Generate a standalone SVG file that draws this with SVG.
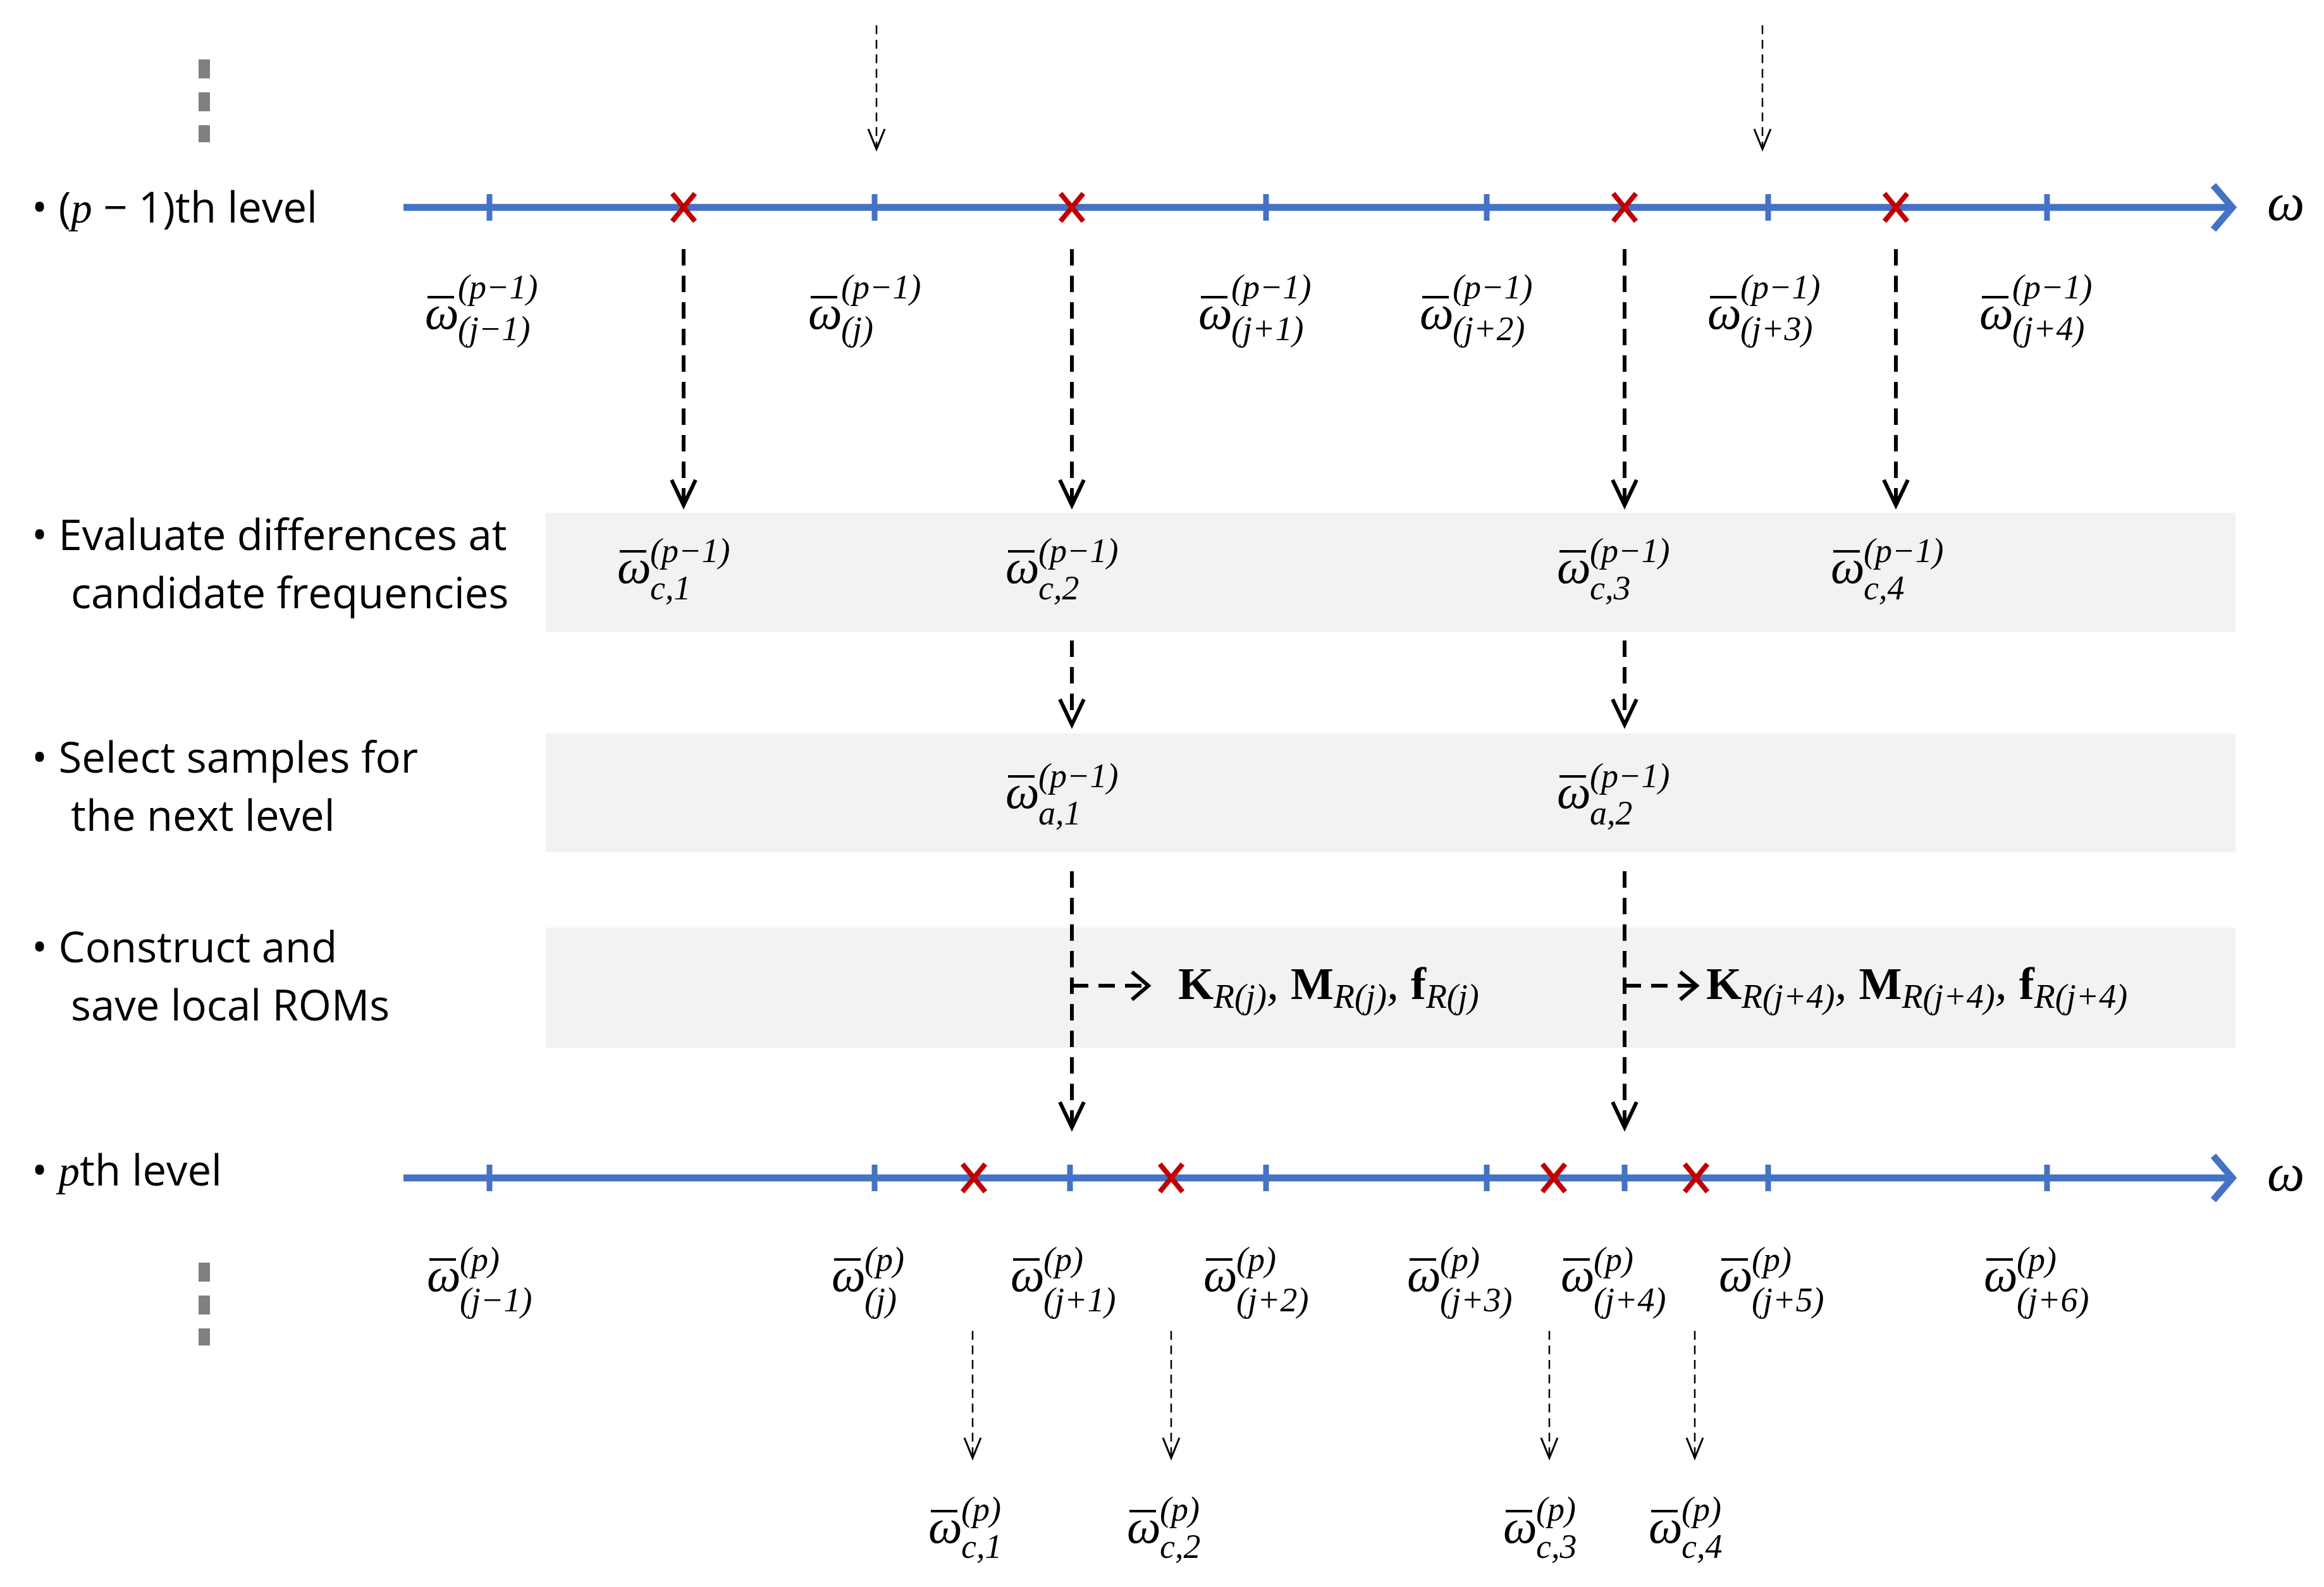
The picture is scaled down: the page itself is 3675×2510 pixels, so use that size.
<svg xmlns="http://www.w3.org/2000/svg" width="3675" height="2510" viewBox="0 0 3675 2510">
<style>
.lbl{font-family:"Open Sans","Noto Sans",sans-serif;font-size:67px;fill:#000}
.m{font-family:"Liberation Serif","DejaVu Serif",serif;font-style:italic;fill:#000}
.w{font-size:76px}
.s{font-size:54px}
.b{font-family:"Liberation Serif","DejaVu Serif",serif;font-weight:bold;font-size:72px}
.axis{stroke:#4472C4;stroke-width:11;fill:none}
.tick{stroke:#4472C4;stroke-width:9}
.x{stroke:#C00000;stroke-width:8}
.thick{stroke:#000;stroke-width:6;stroke-dasharray:26,16;fill:none}
.thin{stroke:#000;stroke-width:2.5;stroke-dasharray:14,9;fill:none}
.box{fill:#F2F2F2}
.dots{stroke:#808080;stroke-width:18;stroke-dasharray:30,22}
.bar{stroke:#000;stroke-width:4}
</style>
<defs>
<marker id="ah" markerWidth="10" markerHeight="10" refX="0" refY="0" orient="auto" markerUnits="userSpaceOnUse" overflow="visible">
<path d="M-38,-19 L2,0 L-38,19" fill="none" stroke="#000" stroke-width="6"/>
</marker>
<marker id="ahr" markerWidth="10" markerHeight="10" refX="0" refY="0" orient="auto" markerUnits="userSpaceOnUse" overflow="visible">
<path d="M-30,-13 L2,0 L-30,13" fill="none" stroke="#000" stroke-width="3"/>
</marker>
<marker id="axh" markerWidth="10" markerHeight="10" orient="auto" markerUnits="userSpaceOnUse" overflow="visible">
<path d="M-30,-35 L0,0 L-30,35" fill="none" stroke="#4472C4" stroke-width="11"/>
</marker>
</defs>

<g id="boxes">
<rect class="box" x="863" y="811" width="2672" height="188"/>
<rect class="box" x="863" y="1160" width="2672" height="188"/>
<rect class="box" x="863" y="1467" width="2672" height="190"/>
</g>

<g id="level-labels">
<line class="dots" x1="323" y1="94" x2="323" y2="225"/>
<line class="dots" x1="323" y1="1997" x2="323" y2="2128"/>
<text class="lbl" x="50" y="352">•  (<tspan class="m">p</tspan> − 1)th level</text>
<text class="lbl" x="50" y="870">•  Evaluate differences at</text>
<text class="lbl" x="112" y="962">candidate frequencies</text>
<text class="lbl" x="50" y="1222">•  Select samples for</text>
<text class="lbl" x="112" y="1314">the next level</text>
<text class="lbl" x="50" y="1522">•  Construct and</text>
<text class="lbl" x="112" y="1614">save local ROMs</text>
<text class="lbl" x="50" y="1875">•  <tspan class="m">p</tspan>th level</text>
</g>

<g id="axis-top">
<line class="axis" x1="638" y1="328" x2="3530" y2="328" marker-end="url(#axh)"/>
<g class="tick"><line x1="774" y1="307" x2="774" y2="349"/><line x1="1383" y1="307" x2="1383" y2="349"/><line x1="2002" y1="307" x2="2002" y2="349"/><line x1="2351" y1="307" x2="2351" y2="349"/><line x1="2796" y1="307" x2="2796" y2="349"/><line x1="3237" y1="307" x2="3237" y2="349"/></g>
<g class="x"><path d="M1063,306 L1099,350 M1099,306 L1063,350"/><path d="M1677,306 L1713,350 M1713,306 L1677,350"/><path d="M2551,306 L2587,350 M2587,306 L2551,350"/><path d="M2980,306 L3016,350 M3016,306 L2980,350"/></g>
<text class="m" x="3585" y="348" font-size="84">ω</text>
</g>

<g id="axis-bottom">
<line class="axis" x1="638" y1="1863" x2="3530" y2="1863" marker-end="url(#axh)"/>
<g class="tick"><line x1="774" y1="1842" x2="774" y2="1884"/><line x1="1383" y1="1842" x2="1383" y2="1884"/><line x1="1692" y1="1842" x2="1692" y2="1884"/><line x1="2002" y1="1842" x2="2002" y2="1884"/><line x1="2351" y1="1842" x2="2351" y2="1884"/><line x1="2569" y1="1842" x2="2569" y2="1884"/><line x1="2796" y1="1842" x2="2796" y2="1884"/><line x1="3237" y1="1842" x2="3237" y2="1884"/></g>
<g class="x"><path d="M1522,1841 L1558,1885 M1558,1841 L1522,1885"/><path d="M1834,1841 L1870,1885 M1870,1841 L1834,1885"/><path d="M2439,1841 L2475,1885 M2475,1841 L2439,1885"/><path d="M2664,1841 L2700,1885 M2700,1841 L2664,1885"/></g>
<text class="m" x="3585" y="1883" font-size="84">ω</text>
</g>

<g id="top-labels" class="m">
<text class="w" x="672" y="520">ω</text><text class="s" x="724" y="472">(p−1)</text><text class="s" x="724" y="538">(j−1)</text>
<text class="w" x="1278" y="520">ω</text><text class="s" x="1330" y="472">(p−1)</text><text class="s" x="1330" y="538">(j)</text>
<text class="w" x="1895" y="520">ω</text><text class="s" x="1947" y="472">(p−1)</text><text class="s" x="1947" y="538">(j+1)</text>
<text class="w" x="2245" y="520">ω</text><text class="s" x="2297" y="472">(p−1)</text><text class="s" x="2297" y="538">(j+2)</text>
<text class="w" x="2700" y="520">ω</text><text class="s" x="2752" y="472">(p−1)</text><text class="s" x="2752" y="538">(j+3)</text>
<text class="w" x="3130" y="520">ω</text><text class="s" x="3182" y="472">(p−1)</text><text class="s" x="3182" y="538">(j+4)</text>
</g>

<g id="candidate-labels" class="m">
<text class="w" x="976" y="922">ω</text><text class="s" x="1028" y="889">(p−1)</text><text class="s" x="1028" y="948">c,1</text>
<text class="w" x="1590" y="922">ω</text><text class="s" x="1642" y="889">(p−1)</text><text class="s" x="1642" y="948">c,2</text>
<text class="w" x="2462" y="922">ω</text><text class="s" x="2514" y="889">(p−1)</text><text class="s" x="2514" y="948">c,3</text>
<text class="w" x="2895" y="922">ω</text><text class="s" x="2947" y="889">(p−1)</text><text class="s" x="2947" y="948">c,4</text>
</g>

<g id="selected-labels" class="m">
<text class="w" x="1590" y="1278">ω</text><text class="s" x="1642" y="1245">(p−1)</text><text class="s" x="1642" y="1304">a,1</text>
<text class="w" x="2462" y="1278">ω</text><text class="s" x="2514" y="1245">(p−1)</text><text class="s" x="2514" y="1304">a,2</text>
</g>

<g id="rom-labels">
<text x="1863" y="1580"><tspan class="b">K</tspan><tspan class="m s" dy="14">R(j)</tspan><tspan class="m w" dy="-14">, </tspan><tspan class="b">M</tspan><tspan class="m s" dy="14">R(j)</tspan><tspan class="m w" dy="-14">, </tspan><tspan class="b">f</tspan><tspan class="m s" dy="14">R(j)</tspan></text>
<text x="2698" y="1580"><tspan class="b">K</tspan><tspan class="m s" dy="14">R(j+4)</tspan><tspan class="m w" dy="-14">, </tspan><tspan class="b">M</tspan><tspan class="m s" dy="14">R(j+4)</tspan><tspan class="m w" dy="-14">, </tspan><tspan class="b">f</tspan><tspan class="m s" dy="14">R(j+4)</tspan></text>
</g>

<g id="bottom-labels" class="m">
<text class="w" x="675" y="2042">ω</text><text class="s" x="727" y="2010">(p)</text><text class="s" x="727" y="2074">(j−1)</text>
<text class="w" x="1315" y="2042">ω</text><text class="s" x="1367" y="2010">(p)</text><text class="s" x="1367" y="2074">(j)</text>
<text class="w" x="1598" y="2042">ω</text><text class="s" x="1650" y="2010">(p)</text><text class="s" x="1650" y="2074">(j+1)</text>
<text class="w" x="1903" y="2042">ω</text><text class="s" x="1955" y="2010">(p)</text><text class="s" x="1955" y="2074">(j+2)</text>
<text class="w" x="2225" y="2042">ω</text><text class="s" x="2277" y="2010">(p)</text><text class="s" x="2277" y="2074">(j+3)</text>
<text class="w" x="2468" y="2042">ω</text><text class="s" x="2520" y="2010">(p)</text><text class="s" x="2520" y="2074">(j+4)</text>
<text class="w" x="2718" y="2042">ω</text><text class="s" x="2770" y="2010">(p)</text><text class="s" x="2770" y="2074">(j+5)</text>
<text class="w" x="3137" y="2042">ω</text><text class="s" x="3189" y="2010">(p)</text><text class="s" x="3189" y="2074">(j+6)</text>
<text class="w" x="1468" y="2440">ω</text><text class="s" x="1520" y="2405">(p)</text><text class="s" x="1520" y="2464">c,1</text>
<text class="w" x="1782" y="2440">ω</text><text class="s" x="1834" y="2405">(p)</text><text class="s" x="1834" y="2464">c,2</text>
<text class="w" x="2377" y="2440">ω</text><text class="s" x="2429" y="2405">(p)</text><text class="s" x="2429" y="2464">c,3</text>
<text class="w" x="2607" y="2440">ω</text><text class="s" x="2659" y="2405">(p)</text><text class="s" x="2659" y="2464">c,4</text>
</g>

<g id="bars" class="bar">
<line x1="676" y1="470" x2="718" y2="470"/><line x1="1282" y1="470" x2="1324" y2="470"/><line x1="1899" y1="470" x2="1941" y2="470"/><line x1="2249" y1="470" x2="2291" y2="470"/><line x1="2704" y1="470" x2="2746" y2="470"/><line x1="3134" y1="470" x2="3176" y2="470"/>
<line x1="980" y1="872" x2="1022" y2="872"/><line x1="1594" y1="872" x2="1636" y2="872"/><line x1="2466" y1="872" x2="2508" y2="872"/><line x1="2899" y1="872" x2="2941" y2="872"/>
<line x1="1594" y1="1228" x2="1636" y2="1228"/><line x1="2466" y1="1228" x2="2508" y2="1228"/>
<line x1="679" y1="1992" x2="721" y2="1992"/><line x1="1319" y1="1992" x2="1361" y2="1992"/><line x1="1602" y1="1992" x2="1644" y2="1992"/><line x1="1907" y1="1992" x2="1949" y2="1992"/><line x1="2229" y1="1992" x2="2271" y2="1992"/><line x1="2472" y1="1992" x2="2514" y2="1992"/><line x1="2722" y1="1992" x2="2764" y2="1992"/><line x1="3141" y1="1992" x2="3183" y2="1992"/>
<line x1="1472" y1="2390" x2="1514" y2="2390"/><line x1="1786" y1="2390" x2="1828" y2="2390"/><line x1="2381" y1="2390" x2="2423" y2="2390"/><line x1="2611" y1="2390" x2="2653" y2="2390"/>
</g>

<g id="connectors">
<line class="thin" x1="1386" y1="40" x2="1386" y2="234" marker-end="url(#ahr)"/>
<line class="thin" x1="2787" y1="40" x2="2787" y2="234" marker-end="url(#ahr)"/>
<line class="thick" x1="1081" y1="394" x2="1081" y2="797" marker-end="url(#ah)"/>
<line class="thick" x1="1695" y1="394" x2="1695" y2="797" marker-end="url(#ah)"/>
<line class="thick" x1="2569" y1="394" x2="2569" y2="797" marker-end="url(#ah)"/>
<line class="thick" x1="2998" y1="394" x2="2998" y2="797" marker-end="url(#ah)"/>
<line class="thick" x1="1695" y1="1013" x2="1695" y2="1144" marker-end="url(#ah)"/>
<line class="thick" x1="2569" y1="1013" x2="2569" y2="1144" marker-end="url(#ah)"/>
<line class="thick" x1="1695" y1="1378" x2="1695" y2="1781" marker-end="url(#ah)"/>
<line class="thick" x1="2569" y1="1378" x2="2569" y2="1781" marker-end="url(#ah)"/>
<path d="M1695,1559 H1814" class="thick" stroke-dasharray="20,14"/>
<path d="M1790,1537 L1816,1559 L1790,1581" fill="none" stroke="#000" stroke-width="6"/>
<path d="M2569,1559 H2681" class="thick" stroke-dasharray="20,14"/>
<path d="M2657,1537 L2683,1559 L2657,1581" fill="none" stroke="#000" stroke-width="6"/>
<line class="thin" x1="1538" y1="2105" x2="1538" y2="2304" marker-end="url(#ahr)"/>
<line class="thin" x1="1852" y1="2105" x2="1852" y2="2304" marker-end="url(#ahr)"/>
<line class="thin" x1="2450" y1="2105" x2="2450" y2="2304" marker-end="url(#ahr)"/>
<line class="thin" x1="2680" y1="2105" x2="2680" y2="2304" marker-end="url(#ahr)"/>
</g>
</svg>
